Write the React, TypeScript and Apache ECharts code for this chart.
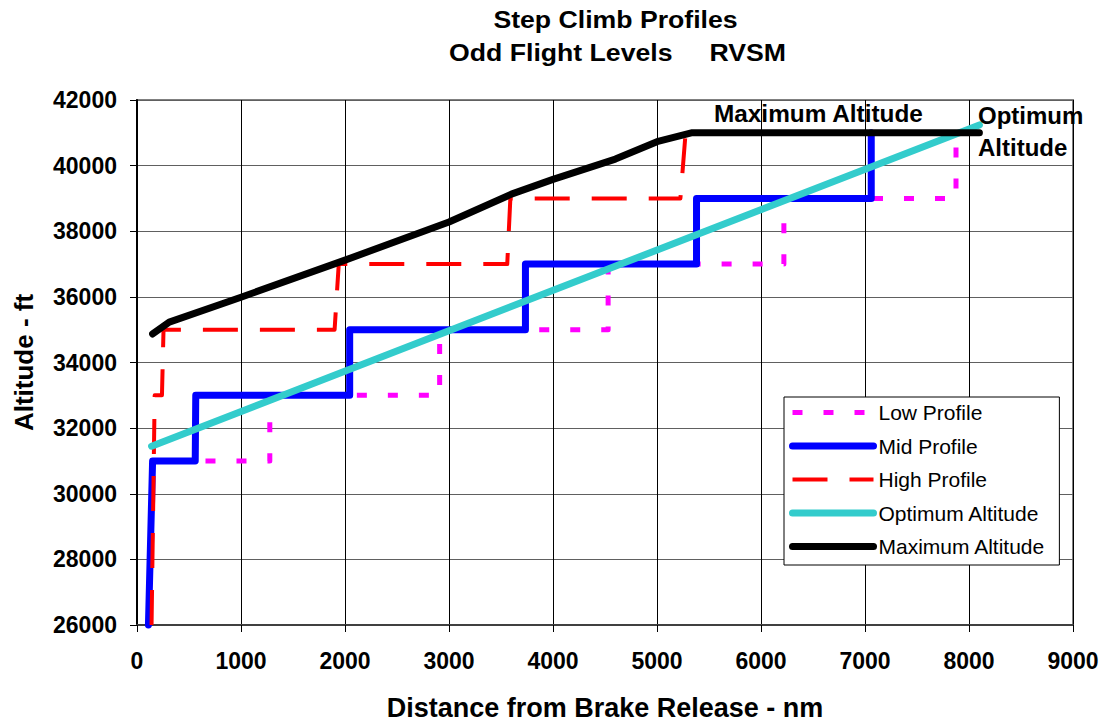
import React, { useEffect, useRef } from "react";
import * as echarts from "echarts";

const FONT = "'Liberation Sans', Arial, sans-serif";

const titleLine1 = "Step Climb Profiles";
const titleLine2 = "Odd Flight Levels     RVSM";
const xAxisName = "Distance from Brake Release - nm";
const yAxisName = "Altitude - ft";

const seriesNames = ["Low Profile", "Mid Profile", "High Profile", "Optimum Altitude", "Maximum Altitude"];

// [distance nm, altitude ft]
const lowProfile: [number, number][] = [
  [110, 26000], [150, 31000], [1277, 31000], [1277, 33000], [2910, 33000], [2910, 35000],
  [4530, 35000], [4530, 37000], [6220, 37000], [6220, 39000], [7875, 39000], [7875, 41000],
];
const midProfile: [number, number][] = [
  [110, 26000], [150, 31000], [560, 31000], [565, 33000], [2045, 33000], [2045, 35000],
  [3735, 35000], [3735, 37000], [5380, 37000], [5380, 39000], [7060, 39000], [7060, 41000],
];
const highProfile: [number, number][] = [
  [140, 26000], [170, 33000], [240, 33000], [255, 35000], [1900, 35000], [1940, 37000],
  [3560, 37000], [3590, 39000], [5225, 39000], [5275, 41000],
];
const optimumAltitude: [number, number][] = [
  [140, 31450], [8100, 41240],
];
const maximumAltitude: [number, number][] = [
  [150, 34870], [310, 35230], [1000, 35990], [2000, 37120], [3000, 38280], [3600, 39130],
  [4000, 39580], [4600, 40200], [5000, 40730], [5330, 41000], [8100, 41000],
];

const colors = ["#FF00FF", "#0000FF", "#FF0000", "#33CCCC", "#000000"];
const widths = [5, 7, 4, 7, 7];
const dashes: any[] = [[10, 21], "solid", [35, 22], "solid", "solid"];
const caps = ["butt", "round", "butt", "round", "round"];
const seriesData = [lowProfile, midProfile, highProfile, optimumAltitude, maximumAltitude];

export default function App() {
  const ref = useRef<HTMLDivElement>(null);
  useEffect(() => {
    const chart = echarts.init(ref.current!, null, { renderer: "svg" });
    chart.setOption({
      animation: false,
      backgroundColor: "#ffffff",
      textStyle: { fontFamily: FONT },
      grid: {
        left: 137, right: 31, top: 100, bottom: 98,
        show: true, borderColor: "#808080", borderWidth: 2,
      },
      xAxis: {
        type: "value", min: 0, max: 9000, interval: 1000,
        name: xAxisName, nameLocation: "middle", nameGap: 69,
        nameTextStyle: { fontSize: 27, fontWeight: "bold", color: "#000", fontFamily: FONT },
        axisLine: { show: true, onZero: false, lineStyle: { color: "#404040", width: 2 } },
        axisTick: { show: true, inside: false, length: 7, lineStyle: { color: "#000", width: 1 } },
        axisLabel: { margin: 24, fontSize: 23, fontWeight: "bold", color: "#000", fontFamily: FONT, formatter: (v: number) => String(v) },
        splitLine: { show: true, lineStyle: { color: "#000", width: 1 } },
      },
      yAxis: {
        type: "value", min: 26000, max: 42000, interval: 2000,
        name: yAxisName, nameLocation: "middle", nameGap: 100, nameRotate: 90,
        nameTextStyle: { fontSize: 26, fontWeight: "bold", color: "#000", fontFamily: FONT },
        axisLine: { show: true, onZero: false, lineStyle: { color: "#000", width: 2 } },
        axisTick: { show: true, inside: false, length: 7, lineStyle: { color: "#000", width: 1 } },
        axisLabel: { margin: 20, fontSize: 23, fontWeight: "bold", color: "#000", fontFamily: FONT, formatter: (v: number) => String(v) },
        splitLine: { show: true, lineStyle: { color: "#606060", width: 1 } },
      },
      legend: {
        orient: "vertical",
        left: 784, top: 397,
        padding: [5, 14, 8, 5],
        itemWidth: 81, itemHeight: 14, itemGap: 12.5,
        backgroundColor: "#ffffff",
        borderColor: "#000", borderWidth: 1,
        textStyle: { fontSize: 21, color: "#000", fontFamily: FONT, lineHeight: 21 },
        itemStyle: { opacity: 0 },
        data: seriesNames.map((n, i) => ({
          name: n,
          lineStyle: { width: widths[i], type: dashes[i], color: colors[i], cap: caps[i] },
        })),
      },
      graphic: [
        { type: "text", x: 615.5, y: 19.5, scaleX: 1.11, style: { text: titleLine1, align: "center", verticalAlign: "middle", font: `bold 24px ${FONT}`, fill: "#000" } },
        { type: "text", x: 617.5, y: 52.5, scaleX: 1.11, style: { text: titleLine2, align: "center", verticalAlign: "middle", font: `bold 24px ${FONT}`, fill: "#000" } },
        { type: "text", x: 714, y: 114, z: 100, scaleX: 1.015, style: { text: "Maximum Altitude", align: "left", verticalAlign: "middle", font: `bold 24px ${FONT}`, fill: "#000" } },
        { type: "text", x: 978, y: 115, z: 100, style: { text: "Optimum", align: "left", verticalAlign: "middle", font: `bold 24px ${FONT}`, fill: "#000" } },
        { type: "text", x: 978, y: 147, z: 100, style: { text: "Altitude", align: "left", verticalAlign: "middle", font: `bold 24px ${FONT}`, fill: "#000" } },
      ],
      series: seriesNames.map((n, i) => ({
        name: n,
        type: "line",
        data: seriesData[i],
        symbol: "none",
        showSymbol: false,
        clip: false,
        z: 2 + i,
        itemStyle: { color: colors[i] },
        lineStyle: { color: colors[i], width: widths[i], type: dashes[i], cap: caps[i], join: "round" },
      })),
    });
    return () => chart.dispose();
  }, []);
  return (
    <div
      ref={ref}
      style={{ position: "fixed", left: 0, top: 0, width: 1104, height: 726, background: "#fff" }}
    />
  );
}
